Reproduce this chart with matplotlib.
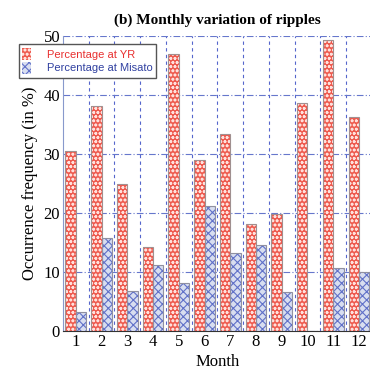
import numpy as np
import matplotlib.pyplot as plt
import matplotlib.patches as mpatches

months = ['1', '2', '3', '4', '5', '6', '7', '8', '9', '10', '11', '12']
yr = [30.5, 38.2, 25.0, 14.3, 47.0, 29.0, 33.4, 18.1, 19.8, 38.6, 49.3, 36.2]
misato = [3.3, 15.7, 6.8, 11.2, 8.1, 21.2, 13.2, 14.6, 6.6, 0.0, 10.7, 10.0]

plt.rcParams['font.family'] = 'Liberation Serif'
plt.rcParams['hatch.linewidth'] = 0.8

fig = plt.figure(figsize=(3.7, 3.7), dpi=100)
ax = fig.add_axes([0.17, 0.105, 0.835, 0.798])

x = np.arange(1, 13)
w = 0.4
# fill + light hatch, then grey outline on top
ax.bar(x - 0.2, yr, w, color='#ee5a4e', edgecolor='#ffe0dc', hatch='oooo', linewidth=0, zorder=3)
ax.bar(x - 0.2, yr, w, fill=False, edgecolor='#a09090', linewidth=0.8, zorder=4)
ax.bar(x + 0.2, misato, w, color='#d8def0', edgecolor='#6070c8', hatch='xxxx', linewidth=0, zorder=3)
ax.bar(x + 0.2, misato, w, fill=False, edgecolor='#9090a0', linewidth=0.8, zorder=4)

ax.set_xlim(0.5, 12.5)
ax.set_ylim(0, 50)
ax.set_xticks(x)
ax.set_xticklabels(months)
ax.set_yticks([0, 10, 20, 30, 40, 50])
ax.set_xticks(np.arange(1.5, 12.5, 1), minor=True)
ax.tick_params(axis='both', labelsize=12, length=0, which='both', pad=2)
ax.grid(True, axis='x', which='minor', color='#5566cc', linestyle=(0, (3, 3)), linewidth=0.8)
ax.grid(True, axis='y', which='major', color='#6677cc', linestyle=(0, (6, 2, 1, 2)), linewidth=0.8)
ax.set_axisbelow(True)
for s in ['top', 'right']:
    ax.spines[s].set_visible(False)
ax.spines['left'].set_color('#8899cc')
ax.spines['bottom'].set_color('#333333')

ax.set_xlabel('Month', fontsize=12, labelpad=3)
ax.set_ylabel('Occurrence frequency (in %)', fontsize=12)
ax.set_title('(b) Monthly variation of ripples', fontsize=11, fontweight='bold', pad=9)

h1 = mpatches.Patch(facecolor='#ee5a4e', edgecolor='#ffe0dc', hatch='oooo', linewidth=0)
h2 = mpatches.Patch(facecolor='#d8def0', edgecolor='#6070c8', hatch='xxxx', linewidth=0)
leg = fig.legend([h1, h2], ['Percentage at YR', 'Percentage at Misato'],
                 loc='upper left', bbox_to_anchor=(0.035, 0.895), fancybox=False,
                 framealpha=1, edgecolor='#555555',
                 prop={'family': 'Liberation Sans', 'size': 8},
                 handlelength=0.8, handleheight=1.3, handletextpad=1.4,
                 borderpad=0.35, labelspacing=0.1)
leg.get_texts()[0].set_color('#e83030')
leg.get_texts()[1].set_color('#3040a0')

plt.savefig('out.png', dpi=100)
